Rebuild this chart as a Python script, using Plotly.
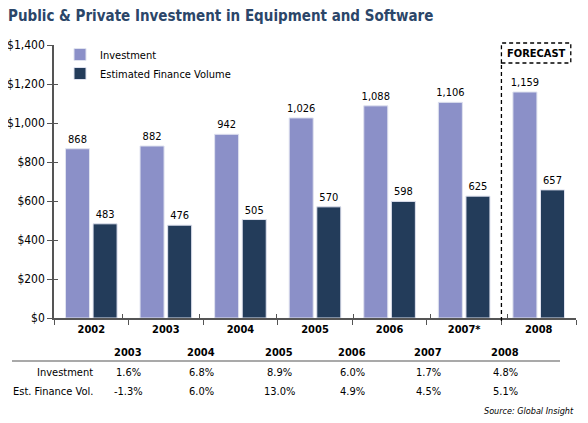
import plotly.graph_objects as go

# chart data
years = ['2002', '2003', '2004', '2005', '2006', '2007*', '2008']
investment = [868, 882, 942, 1026, 1088, 1106, 1159]
finance_volume = [483, 476, 505, 570, 598, 625, 657]

# growth table under the chart
table_years = ['2003', '2004', '2005', '2006', '2007', '2008']
table_rows = ['Investment', 'Est. Finance Vol.']
inv_growth = ['1.6%', '6.8%', '8.9%', '6.0%', '1.7%', '4.8%']
fin_growth = ['-1.3%', '6.0%', '13.0%', '4.9%', '4.5%', '5.1%']

W, H = 588, 423
OFF = 8  # page body margin shifts the figure by 8px
L, R, T, B = 54 - OFF, 20, 45 - OFF, 113
FONT = 'DejaVu Sans Condensed, Liberation Sans Narrow, sans-serif'
LIGHT = '#8b90c8'
DARK = '#233c5a'
AXIS = '#555555'

pw = W - L - R
ph = H - T - B

def px_x(p):
    # screen pixel x -> paper x
    return (p - OFF - L) / pw

def px_y(p):
    # screen pixel y -> paper y
    return (H - B - (p - OFF)) / ph

fig = go.Figure()
fig.add_trace(go.Bar(x=years, y=investment, name='Investment',
                     marker=dict(color=LIGHT, line=dict(color='#dfe2ef', width=1)),
                     texttemplate='%{y:,}', textposition='outside', constraintext='none',
                     textfont=dict(size=11, color='black'), cliponaxis=False))
fig.add_trace(go.Bar(x=years, y=finance_volume, name='Estimated Finance Volume',
                     marker=dict(color=DARK, line=dict(color='#dfe2ef', width=1)),
                     texttemplate='%{y:,}', textposition='outside', constraintext='none',
                     textfont=dict(size=11, color='black'), cliponaxis=False))
# invisible trace so the overlay axes (crossing ticks) get drawn
fig.add_trace(go.Scatter(x=years, y=[None]*len(years), xaxis='x2', yaxis='y2',
                         showlegend=False, hoverinfo='skip'))

fig.update_layout(
    width=W, height=H, margin=dict(l=L, r=R, t=T, b=B, autoexpand=False),
    paper_bgcolor='white', plot_bgcolor='white',
    font=dict(family=FONT, size=11, color='black'),
    barmode='group', bargap=0.26, bargroupgap=0.13,
    title=dict(text='<b>Public & Private Investment in Equipment and Software</b>',
               x=0, xanchor='left', y=1, yanchor='top', pad=dict(t=2),
               font=dict(family=FONT, size=15, color='#2b4669')),
    legend=dict(x=px_x(60), y=px_y(40), xanchor='left', yanchor='top',
                bgcolor='rgba(0,0,0,0)', font=dict(size=11),
                itemwidth=30, tracegroupgap=2),
    xaxis=dict(type='category', showline=True, linecolor=AXIS, linewidth=1.5,
               ticks='outside', tickson='boundaries', ticklen=5, tickcolor=AXIS,
               tickfont=dict(size=11, color='black', family=FONT),
               tickprefix='<b>', ticksuffix='</b>', showgrid=False, zeroline=False),
    yaxis=dict(range=[0, 1400], dtick=200, tickprefix='$', tickformat=',',
               showline=True, linecolor=AXIS, linewidth=1.5, ticks='outside',
               ticklen=5, tickcolor=AXIS, showgrid=False, zeroline=False,
               tickfont=dict(size=12, color='black')),
    xaxis2=dict(type='category', overlaying='x', ticks='inside', tickson='boundaries',
                ticklen=4, tickcolor=AXIS, showticklabels=False, showgrid=False,
                showline=False, zeroline=False, categoryorder='array',
                categoryarray=years),
    yaxis2=dict(range=[0, 1400], dtick=200, overlaying='y', ticks='inside',
                ticklen=4, tickcolor=AXIS, showticklabels=False, showgrid=False,
                showline=False, zeroline=False),
)

# forecast divider and box
dash = dict(color='black', width=1.3, dash='4px,3px')
fig.add_shape(type='line', xref='x', yref='paper', x0=5.5, x1=5.5,
              y0=px_y(321), y1=px_y(63), line=dash)
fig.add_shape(type='rect', xref='x', yref='paper', x0=5.5, x1=6.43,
              y0=px_y(63), y1=px_y(43), line=dash)
fig.add_annotation(xref='x', yref='paper', x=5.965, y=px_y(53), text='<b>FORECAST</b>',
                   xanchor='center', yanchor='middle', showarrow=False,
                   font=dict(size=11, color='black'))

# growth table
col_x = [128, 201, 279, 352, 428, 505]
for cx, yr, a, b in zip(col_x, table_years, inv_growth, fin_growth):
    for ry, txt in [(352, '<b>' + yr + '</b>'), (372, a), (391, b)]:
        fig.add_annotation(xref='paper', yref='paper', x=px_x(cx), y=px_y(ry), text=txt,
                           xanchor='center', yanchor='middle', showarrow=False,
                           font=dict(size=11))
for ry, label in zip([372, 391], table_rows):
    fig.add_annotation(xref='paper', yref='paper', x=px_x(95), y=px_y(ry), text=label,
                       xanchor='right', yanchor='middle', showarrow=False, font=dict(size=11))
fig.add_shape(type='line', xref='paper', yref='paper', x0=px_x(12), x1=px_x(560),
              y0=px_y(361), y1=px_y(361), line=dict(color=AXIS, width=1.2))

fig.add_annotation(xref='paper', yref='paper', x=px_x(576), y=px_y(411),
                   text='<i>Source: Global Insight</i>', xanchor='right', yanchor='middle',
                   showarrow=False, font=dict(size=9))

fig.write_html('out.html')
